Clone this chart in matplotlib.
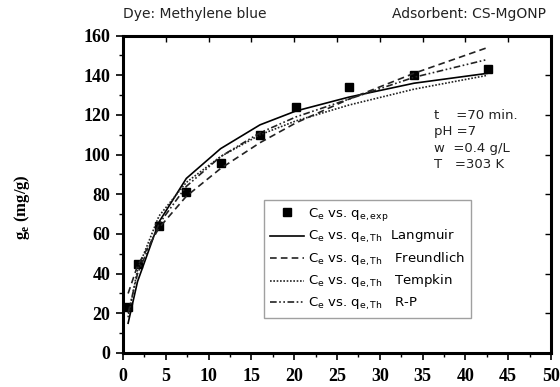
import numpy as np
import matplotlib
matplotlib.use('Agg')
import matplotlib.pyplot as plt
from matplotlib.ticker import MultipleLocator

ce_exp = [0.6, 1.7, 4.2, 7.4, 11.4, 16.0, 20.2, 26.4, 34.0, 42.6]
qe_exp = [23, 45, 64, 81, 96, 110, 124, 134, 140, 143]

# Model curves, evaluated at the same Ce values
qe_langmuir = [15, 36, 66, 88, 103, 115, 122, 129, 136, 141]
qe_freundlich = [30, 44, 63, 79, 93, 106, 116, 128, 141, 154]
qe_tempkin = [18, 42, 69, 86, 99, 110, 117, 125, 133, 140]
qe_rp = [20, 40, 65, 84, 99, 111, 119, 128, 139, 148]

model_names = ['Langmuir', 'Freundlich', 'Tempkin', 'R-P']
conditions = 't    =70 min.\npH =7\nw  =0.4 g/L\nT   =303 K'

sans = 'DejaVu Sans'
serif = 'Liberation Serif'

fig = plt.figure(figsize=(5.6, 3.87), dpi=100)
ax = fig.add_axes([0.2196, 0.0879, 0.7644, 0.8201])

lw = 1.2
ax.plot(ce_exp, qe_exp, 's', color='black', markersize=6.3,
        label=r'C$_\mathregular{e}$ vs. q$_\mathregular{e,exp}$')
ax.plot(ce_exp, qe_langmuir, '-', color='black', linewidth=lw,
        label=r'C$_\mathregular{e}$ vs. q$_\mathregular{e,Th}$  ' + model_names[0])
ax.plot(ce_exp, qe_freundlich, color='#222222', linewidth=lw,
        linestyle=(0, (4, 2.5)),
        label=r'C$_\mathregular{e}$ vs. q$_\mathregular{e,Th}$   ' + model_names[1])
ax.plot(ce_exp, qe_tempkin, color='#222222', linewidth=lw,
        linestyle=(0, (1, 1)),
        label=r'C$_\mathregular{e}$ vs. q$_\mathregular{e,Th}$   ' + model_names[2])
ax.plot(ce_exp, qe_rp, color='#222222', linewidth=lw,
        linestyle=(0, (4, 1.5, 1, 1.5, 1, 1.5)),
        label=r'C$_\mathregular{e}$ vs. q$_\mathregular{e,Th}$   ' + model_names[3])

ax.set_xlim(0, 50)
ax.set_ylim(0, 160)
ax.xaxis.set_major_locator(MultipleLocator(5))
ax.xaxis.set_minor_locator(MultipleLocator(2.5))
ax.yaxis.set_major_locator(MultipleLocator(20))
ax.yaxis.set_minor_locator(MultipleLocator(10))

for s in ax.spines.values():
    s.set_linewidth(2.2)

ax.tick_params(which='major', direction='out', length=5, width=1.2,
               top=False, right=False)
ax.tick_params(which='minor', direction='out', length=3, width=1.0,
               top=False, right=False)
ax.tick_params(axis='x', which='major', pad=6)
ax.tick_params(axis='y', which='major', pad=4)

# inward ticks on top and right
ax_top = ax.secondary_xaxis('top')
ax_top.set_xticks(np.arange(0, 51, 5))
ax_top.tick_params(direction='in', length=4, width=1.0, labeltop=False)
ax_top.spines['top'].set_visible(False)
ax_right = ax.secondary_yaxis('right')
ax_right.set_yticks(np.arange(0, 161, 20))
ax_right.tick_params(direction='in', length=4, width=1.0, labelright=False)
ax_right.spines['right'].set_visible(False)

for lab in ax.get_xticklabels() + ax.get_yticklabels():
    lab.set_fontfamily(serif)
    lab.set_fontweight('bold')
    lab.set_fontsize(13)

fig.text(0.04, 0.465, r'g$_\mathregular{e}$ (mg/g)', rotation=90,
         ha='center', va='center', fontfamily=serif, fontweight='bold',
         fontsize=12)

fig.text(0.22, 0.965, 'Dye: Methylene blue', fontfamily=sans,
         fontsize=10, ha='left', va='center', color='#222222')
fig.text(0.975, 0.965, 'Adsorbent: CS-MgONP', fontfamily=sans,
         fontsize=10, ha='right', va='center', color='#222222')

ax.text(0.727, 0.77, conditions, transform=ax.transAxes, fontfamily=sans,
        fontsize=9.5, ha='left', va='top', linespacing=1.35, color='#222222')

leg = ax.legend(loc='upper left', bbox_to_anchor=(0.33, 0.482),
                borderaxespad=0, frameon=True, fancybox=False,
                edgecolor='#888888', handlelength=2.6, handletextpad=0.3,
                labelspacing=0.4, borderpad=0.45,
                prop={'family': sans, 'size': 9.5})
leg.get_frame().set_linewidth(1.0)

plt.savefig('out.png', dpi=100)
